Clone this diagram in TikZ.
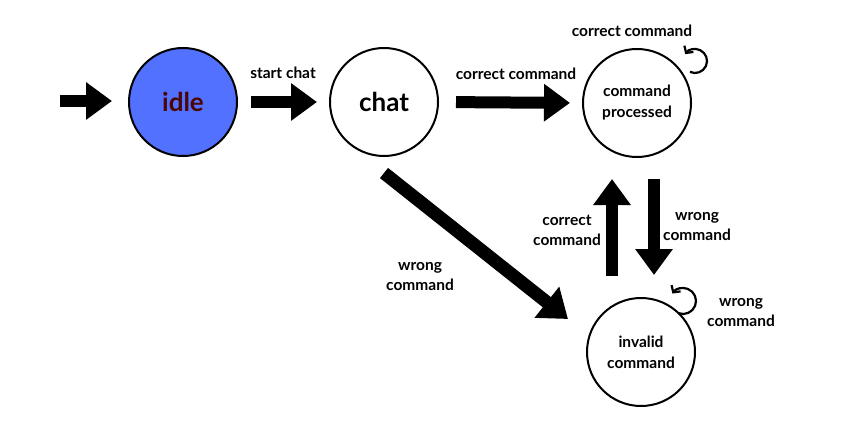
\documentclass[tikz,border=0pt]{standalone}
\usepackage{fontspec}
\setmainfont{Lato}
\usetikzlibrary{arrows.meta,calc}
\definecolor{idleblue}{HTML}{5271FF}
\definecolor{idletext}{HTML}{4A0505}
\begin{document}
\begin{tikzpicture}[x=1pt,y=1pt,
  state/.style={circle,draw=black,line width=2pt,minimum size=108pt,inner sep=0pt,align=center,font=\bfseries\fontsize{15.5}{21}\selectfont},
  bigstate/.style={state,font=\bfseries\fontsize{26}{30}\selectfont},
  blockarrow/.style={line width=12pt,-{Triangle[width=36pt,length=26pt]}},
  diagarrow/.style={line width=13pt,-{Triangle[width=38pt,length=27pt]}},
  looparrow/.style={line width=2.2pt,-{Straight Barb[length=5pt,width=11pt]}},
  lbl/.style={align=center,font=\bfseries\fontsize{15.5}{20}\selectfont}]
\useasboundingbox[fill=white] (0,0) rectangle (842,-422);

\node[bigstate,fill=idleblue,text=idletext] (idle) at (183,-102) {idle};
\node[bigstate] (chat) at (384,-102) {chat};
\node[state] (cmd) at (637,-103) {command\\processed};
\node[state] (invalid) at (641,-352) {invalid\\command};

\coordinate (init) at ($(idle.west)+(-68,1)$);
\coordinate (initend) at ($(idle.west)+(-16,1)$);
\draw[blockarrow] (init) -- (initend);

\draw[blockarrow,shorten <=13pt,shorten >=12pt] (idle.east) -- (chat.west);
\draw[blockarrow,shorten <=17pt,shorten >=12pt] (chat.east) -- (cmd.west);

\coordinate (dA) at ($(chat.south)+(0,-16)$);
\coordinate (dB) at ($(invalid.center)+(-73,33)$);
\draw[diagarrow] (dA) -- (dB);

\coordinate (uA) at ($(invalid.north)+(-29,21)$);
\coordinate (uB) at ($(cmd.south)+(-25,-21)$);
\draw[blockarrow] (uA) -- (uB);

\coordinate (wA) at ($(cmd.south)+(17,-21)$);
\coordinate (wB) at ($(invalid.north)+(13,22)$);
\draw[blockarrow] (wA) -- (wB);

\coordinate (loopA) at ($(cmd.center)+(58,42)$);
\draw[looparrow] (loopA) ++(-115:12) arc[start angle=-115,end angle=145,radius=12];
\coordinate (loopB) at ($(invalid.center)+(42,51)$);
\draw[looparrow] (loopB) ++(-111:13) arc[start angle=-111,end angle=145,radius=13];

\node[lbl] (l1) at (283,-73) {start chat};
\node[lbl] (l2) at (516,-74) {correct command};
\node[lbl] (l3) at (632,-31) {correct command};
\node[lbl] (l4) at (420,-277) {wrong\\command};
\node[lbl] (l5) at (567,-230) {correct\\command};
\node[lbl] (l6) at (697,-227) {wrong\\command};
\node[lbl] (l7) at (741,-313) {wrong\\command};
\end{tikzpicture}
\end{document}
